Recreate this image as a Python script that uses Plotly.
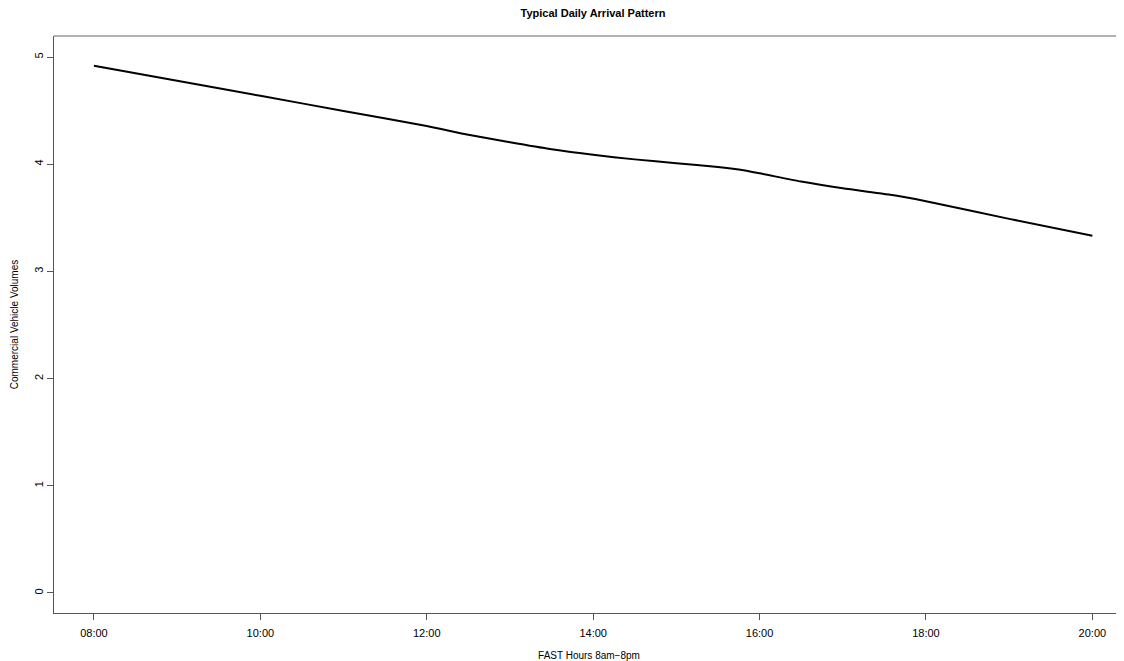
import plotly.graph_objects as go

# Data (time of day, commercial vehicle volume)
times = ["08:00", "09:00", "10:00", "11:00", "12:00", "12:30", "13:00", "13:30",
         "14:00", "14:30", "15:00", "15:30", "15:45", "16:00", "16:30", "17:00", "17:38",
         "18:00", "19:00", "20:00"]
volumes = [4.919, 4.778, 4.638, 4.497, 4.356, 4.275, 4.205, 4.140,
           4.088, 4.045, 4.010, 3.975, 3.950, 3.915, 3.838, 3.775, 3.708,
           3.655, 3.490, 3.333]

x_ticks = ["08:00", "10:00", "12:00", "14:00", "16:00", "18:00", "20:00"]
y_ticks = [0, 1, 2, 3, 4, 5]

day = "2020-01-01 "
xs = [day + t for t in times]

fig = go.Figure()
fig.add_trace(go.Scatter(x=xs, y=volumes, mode="lines",
                         line=dict(color="black", width=2, shape="spline", smoothing=0.6),
                         showlegend=False))

font = "Liberation Sans, Arial, Helvetica, sans-serif"
axis_col = "#555555"

# page body has an 8px default margin: figure is sized to fill the window from there
W, H = 1116, 653

fig.update_layout(
    width=W, height=H,
    margin=dict(l=46, r=0, t=28, b=48),
    paper_bgcolor="white", plot_bgcolor="white",
    font=dict(family=font, size=11, color="black"),
    title=dict(text="<b>Typical Daily Arrival Pattern</b>", x=585 / W, xanchor="center",
               yref="container", y=1 - 5 / H, yanchor="middle",
               font=dict(size=11, family=font, color="black")),
    xaxis=dict(
        type="date",
        range=[day + "07:31:12", day + "20:22:48"],
        tickvals=[day + t for t in x_ticks], ticktext=x_ticks,
        showgrid=False, zeroline=False,
        showline=True, linecolor=axis_col, linewidth=1,
        ticks="outside", ticklen=6, tickcolor=axis_col,
        ticklabelstandoff=4,
        tickfont=dict(size=11, family=font),
        title=dict(text="FAST Hours 8am\u22128pm", standoff=16, font=dict(size=10, family=font)),
    ),
    yaxis=dict(
        range=[-0.187, 5.196],
        tickvals=y_ticks,
        tickangle=-90,
        showgrid=False, zeroline=False,
        showline=True, linecolor=axis_col, linewidth=1,
        ticks="outside", ticklen=6, tickcolor=axis_col,
        tickfont=dict(size=11, family=font),
        title=dict(text="Commercial Vehicle Volumes", standoff=12, font=dict(size=10, family=font)),
    ),
    shapes=[dict(type="line", xref="paper", yref="paper", x0=0, x1=1, y0=1, y1=1,
                 line=dict(color="#999999", width=1.5))],
)

fig.write_html("out.html")
